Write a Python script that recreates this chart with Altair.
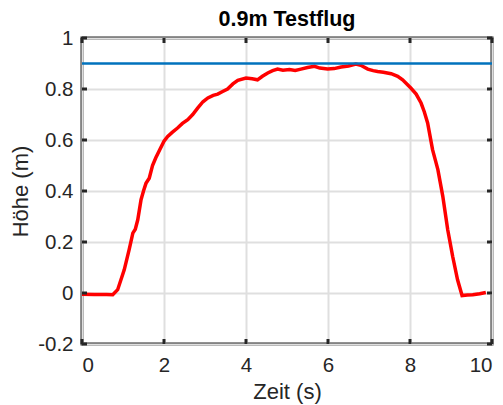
import altair as alt
import pandas as pd

time_s = [0, 0.3, 0.6, 0.75, 0.87, 1.03, 1.15, 1.24, 1.30, 1.36, 1.44, 1.50, 1.56,
          1.64, 1.72, 1.80, 1.89, 2.0, 2.09, 2.20, 2.33, 2.45, 2.58, 2.70, 2.82,
          2.95, 3.07, 3.20, 3.31, 3.43, 3.55, 3.68, 3.80, 4.0, 4.15, 4.28, 4.40,
          4.53, 4.65, 4.77, 4.90, 5.06, 5.20, 5.34, 5.50, 5.67, 5.80, 5.99, 6.15,
          6.32, 6.50, 6.68, 6.80, 6.97, 7.10, 7.21, 7.35, 7.54, 7.70, 7.82, 8.02,
          8.15, 8.27, 8.35, 8.43, 8.55, 8.62, 8.68, 8.80, 8.92, 9.04, 9.16, 9.27,
          9.40, 9.53, 9.70, 9.85]
hoehe_m = [-0.005, -0.006, -0.006, -0.007, 0.013, 0.091, 0.17, 0.235, 0.25, 0.287,
           0.366, 0.40, 0.43, 0.45, 0.50, 0.53, 0.56, 0.595, 0.614, 0.63, 0.647,
           0.665, 0.68, 0.70, 0.725, 0.75, 0.765, 0.775, 0.78, 0.79, 0.80, 0.82,
           0.834, 0.843, 0.840, 0.836, 0.850, 0.863, 0.872, 0.878, 0.874, 0.876,
           0.873, 0.878, 0.884, 0.889, 0.882, 0.878, 0.880, 0.886, 0.890, 0.898,
           0.893, 0.878, 0.872, 0.869, 0.866, 0.86, 0.850, 0.836, 0.804, 0.780,
           0.745, 0.710, 0.667, 0.562, 0.520, 0.484, 0.379, 0.248, 0.144, 0.052,
           -0.01, -0.008, -0.007, -0.003, 0.002]
target_m = [0.9]
x_ticks = [0, 2, 4, 6, 8, 10]
y_ticks = [-0.2, 0, 0.2, 0.4, 0.6, 0.8, 1.0]

W, H = 410, 306
FONT = "Liberation Sans"
DARK = "#262626"

df = pd.DataFrame({"t": time_s, "h": hoehe_m})
tgt = pd.DataFrame({"h": target_m})
xt = pd.DataFrame({"v": x_ticks})
yt = pd.DataFrame({"v": y_ticks})

xscale = alt.Scale(domain=[0, 10], nice=False, zero=False)
yscale = alt.Scale(domain=[-0.2, 1.0], nice=False, zero=False)

xaxis = alt.Axis(values=x_ticks, title="Zeit (s)", tickSize=0,
                 labelExpr="format(datum.value, 'd')",
                 labelPadding=11, titlePadding=6)
yaxis = alt.Axis(values=y_ticks, title="Höhe (m)", tickSize=0,
                 labelExpr="replace(format(datum.value, '~g'), '\u2212', '-')",
                 labelPadding=9, titlePadding=5)

line = alt.Chart(df).mark_line(color="#FF0000", strokeWidth=3.5).encode(
    x=alt.X("t:Q", scale=xscale, axis=xaxis),
    y=alt.Y("h:Q", scale=yscale, axis=yaxis),
)

target = alt.Chart(tgt).mark_rule(color="#0072BD", strokeWidth=2.5).encode(
    y=alt.Y("h:Q", scale=yscale),
    x=alt.value(0), x2=alt.value(W),
)

tb = alt.Chart(xt).mark_rule(color=DARK, strokeWidth=3).encode(
    x=alt.X("v:Q", scale=xscale), y=alt.value(H), y2=alt.value(H - 5))
tt = alt.Chart(xt).mark_rule(color=DARK, strokeWidth=3).encode(
    x=alt.X("v:Q", scale=xscale), y=alt.value(0), y2=alt.value(5))
tl = alt.Chart(yt).mark_rule(color=DARK, strokeWidth=3).encode(
    y=alt.Y("v:Q", scale=yscale), x=alt.value(0), x2=alt.value(5))
tr = alt.Chart(yt).mark_rule(color=DARK, strokeWidth=3).encode(
    y=alt.Y("v:Q", scale=yscale), x=alt.value(W), x2=alt.value(W - 5))

chart = alt.layer(line, target, tb, tt, tl, tr).properties(
    width=W, height=H,
    title=alt.TitleParams("0.9m Testflug", font=FONT, fontSize=21.5, fontWeight="bold",
                          color="#000000", anchor="middle", offset=-2),
    autosize=alt.AutoSizeParams(type="none"),
    padding={"left": 82, "top": 38, "right": 11, "bottom": 61},
).configure_view(
    stroke=DARK, strokeWidth=3
).configure_axis(
    domain=False, grid=True, gridColor="#dfdfdf", gridWidth=2,
    labelFont=FONT, labelFontSize=20.5, labelColor=DARK,
    titleFont=FONT, titleFontSize=22, titleColor=DARK, titleFontWeight="normal",
)

chart.save("out.html", embed_options={"renderer": "svg", "actions": False})
